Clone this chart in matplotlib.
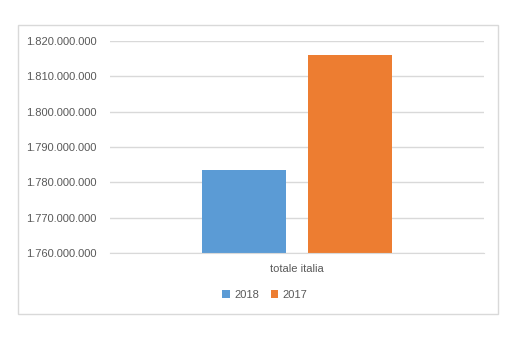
import matplotlib.pyplot as plt
from matplotlib.patches import Rectangle
from matplotlib.ticker import FuncFormatter

# dati
categoria = ["totale italia"]
anni = ["2018", "2017"]
valori = [1783500000, 1816000000]
colori = ["#5B9BD5", "#ED7D31"]
y_ticks = [1760000000, 1770000000, 1780000000, 1790000000,
           1800000000, 1810000000, 1820000000]

plt.rcParams['font.family'] = ['Liberation Sans', 'DejaVu Sans']
W, H = 524, 350
fig = plt.figure(figsize=(W / 100, H / 100), dpi=100)

# cornice del grafico
fig.patches.append(Rectangle((18 / W, 1 - 314 / H), 480 / W, 289 / H,
                             transform=fig.transFigure, fill=False,
                             edgecolor="#D9D9D9", linewidth=1))

ax = fig.add_axes([110 / W, 1 - 253.3 / H, 374 / W, 212.6 / H])
larghezza = 0.449
offset = [-0.283, 0.283]
for i in range(len(anni)):
    ax.bar(offset[i], valori[i], width=larghezza, color=colori[i],
           label=anni[i], zorder=2)

ax.set_xlim(-1, 1)
ax.set_ylim(y_ticks[0], y_ticks[-1])
ax.set_yticks(y_ticks)
ax.yaxis.set_major_formatter(FuncFormatter(lambda v, p: f"{int(v):,}".replace(",", ".")))
ax.set_xticks([0])
ax.set_xticklabels(categoria)
ax.grid(axis='y', color="#D9D9D9", linewidth=1, zorder=0)
for s in ["top", "right", "left"]:
    ax.spines[s].set_visible(False)
ax.spines["bottom"].set_color("#D9D9D9")
ax.tick_params(axis='both', length=0, labelsize=8, colors="#595959")
ax.tick_params(axis='y', pad=9.5)
ax.tick_params(axis='x', pad=8)

fig.legend(loc='center', bbox_to_anchor=(265 / W, 1 - 295 / H), ncol=2,
           frameon=False, fontsize=8, labelcolor="#595959",
           handlelength=0.7, handleheight=0.7, handletextpad=0.4,
           columnspacing=1.0)

fig.savefig("out.png", dpi=100)
